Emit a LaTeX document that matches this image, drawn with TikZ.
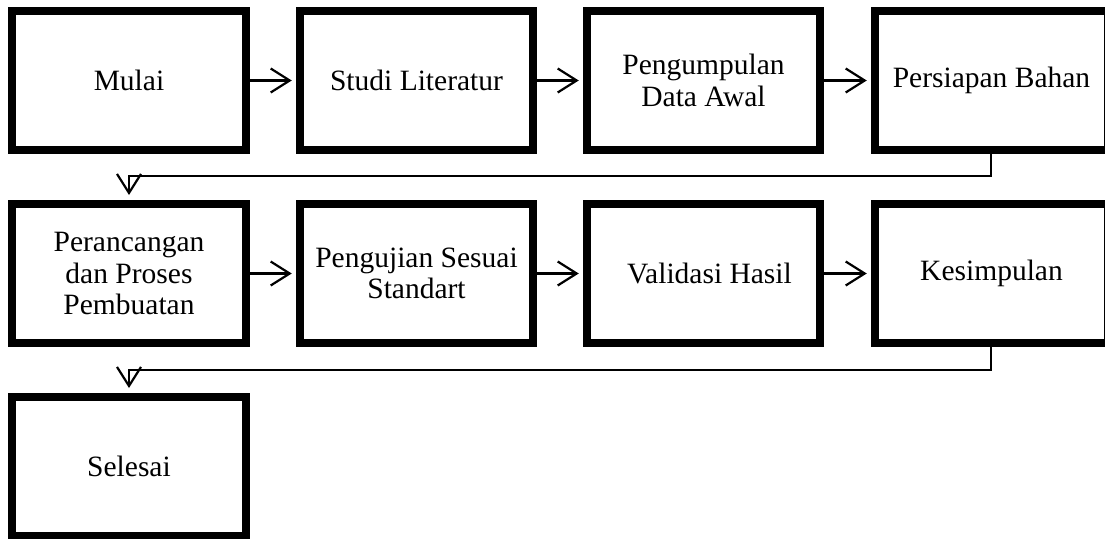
\documentclass[tikz,border=0pt]{standalone}
\usepackage{fontspec}
\setmainfont{Liberation Serif}
\usetikzlibrary{arrows.meta,shadows}
\begin{document}
\begin{tikzpicture}[x=1pt,y=-1pt,
  box/.style={draw=black,line width=8pt,fill=white,minimum width=233.5pt,minimum height=139pt,
    inner sep=0pt,align=center,font=\fontsize{29.5}{31.3}\selectfont,
    drop shadow={shadow xshift=2pt,shadow yshift=-2pt,opacity=0.25,fill=black!60}},
  conn/.style={line width=2.2pt,-{Straight Barb[length=19pt,width=24pt,line width=2.2pt]}},
]
\useasboundingbox (0,0) rectangle (1105,538);
% row 1
\node[box] (b1) at (129,80.5) {Mulai};
\node[box] (b2) at (416.5,80.5) {Studi Literatur};
\node[box] (b3) at (703.5,80.5) {Pengumpulan\\Data Awal};
\node[box] (b4) at (991.5,80.5) {Persiapan Bahan};
% row 2
\node[box] (b5) at (129,273.5) {Perancangan\\dan Proses\\Pembuatan};
\node[box] (b6) at (416.5,273.5) {Pengujian Sesuai\\Standart};
\node[box] (b7) at (703.5,273.5) {\hspace*{12pt}Validasi Hasil};
\node[box] (b8) at (991.5,273.5) {Kesimpulan};
% row 3
\node[box] (b9) at (129,466.5) {Selesai};
% connectors
\draw[conn,shorten >=4pt] (b1.east) -- (b2.west);
\draw[conn,shorten >=4pt] (b2.east) -- (b3.west);
\draw[conn,shorten >=4pt] (b3.east) -- (b4.west);
\draw[conn,shorten >=4pt] (b5.east) -- (b6.west);
\draw[conn,shorten >=4pt] (b6.east) -- (b7.west);
\draw[conn,shorten >=4pt] (b7.east) -- (b8.west);
\coordinate (t1) at (991,176);
\coordinate (t2) at (991,370);
\draw[conn,shorten >=5pt] (b4.south -| t1) -- (t1) -- (t1 -| b5.north) -- (b5.north);
\draw[conn,shorten >=5pt] (b8.south -| t2) -- (t2) -- (t2 -| b9.north) -- (b9.north);
\end{tikzpicture}
\end{document}
